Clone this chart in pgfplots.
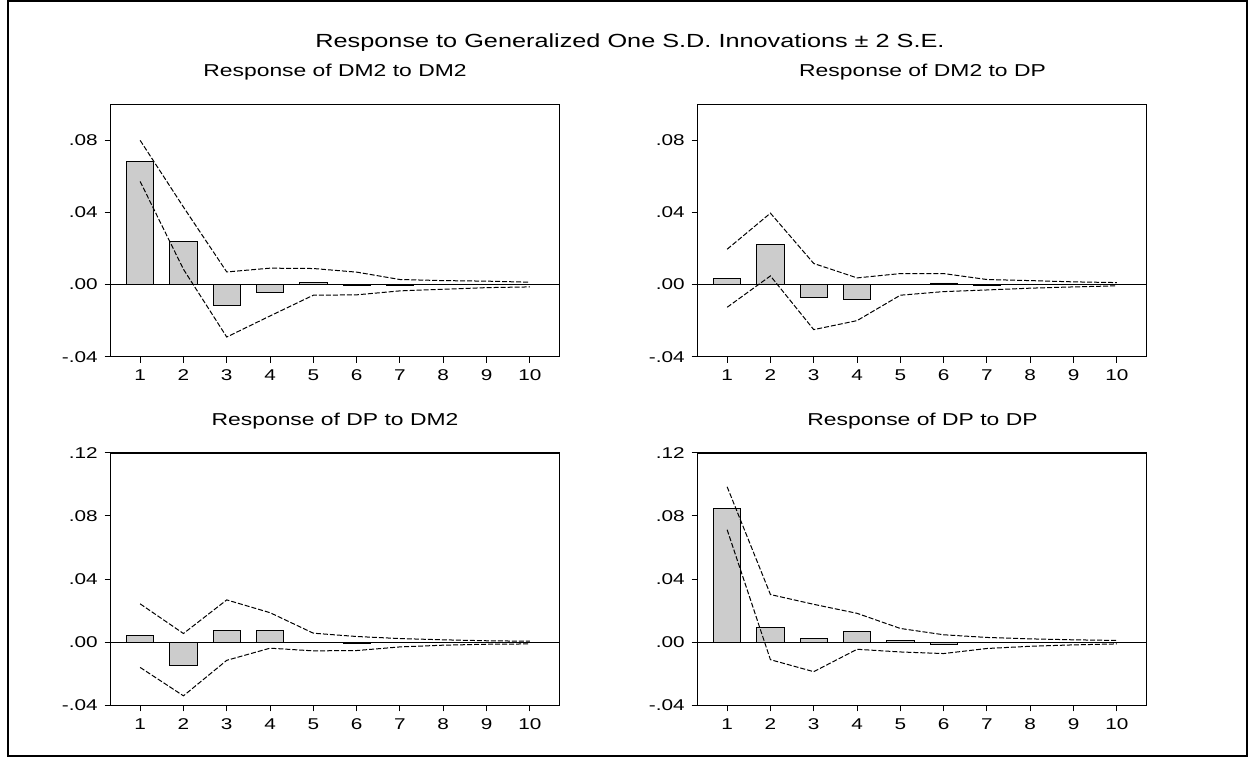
\documentclass[border=0pt]{standalone}
\usepackage{fontspec}
\setmainfont{Liberation Sans}
\usepackage{graphicx}
\usepackage{pgfplots}
\pgfplotsset{compat=1.18}
\usepackage{pgfplotstable}

\definecolor{barfill}{RGB}{204,204,204}
\newcommand{\st}[1]{\scalebox{1.33}[1]{#1}}

% h = horizon, bar = response, up/lo = +/- 2 S.E. bands
\pgfplotstableread{
h bar up lo
1 0.0685 0.0800 0.0572
2 0.0239 0.0430 0.0085
3 -0.0113 0.0070 -0.0291
4 -0.0044 0.0091 -0.0174
5 0.0013 0.0089 -0.0059
6 -0.0002 0.0069 -0.0057
7 -0.0003 0.0028 -0.0035
8 0.0000 0.0022 -0.0026
9 0.0000 0.0019 -0.0017
10 0.0000 0.0013 -0.0013
}\dmdm

\pgfplotstableread{
h bar up lo
1 0.0035 0.0196 -0.0126
2 0.0224 0.0396 0.0048
3 -0.0070 0.0117 -0.0250
4 -0.0081 0.0037 -0.0200
5 0.0000 0.0061 -0.0059
6 0.0009 0.0061 -0.0039
7 -0.0003 0.0028 -0.0030
8 0.0000 0.0022 -0.0020
9 0.0000 0.0015 -0.0013
10 0.0000 0.0011 -0.0007
}\dmdp

\pgfplotstableread{
h bar up lo
1 0.0040 0.0243 -0.0160
2 -0.0145 0.0055 -0.0340
3 0.0074 0.0268 -0.0115
4 0.0072 0.0187 -0.0038
5 0.0000 0.0057 -0.0055
6 -0.0006 0.0036 -0.0053
7 -0.0002 0.0023 -0.0030
8 0.0000 0.0015 -0.0019
9 0.0000 0.0009 -0.0013
10 0.0000 0.0006 -0.0011
}\dpdm

\pgfplotstableread{
h bar up lo
1 0.0849 0.0985 0.0713
2 0.0094 0.0302 -0.0111
3 0.0021 0.0240 -0.0187
4 0.0068 0.0183 -0.0045
5 0.0013 0.0087 -0.0062
6 -0.0015 0.0047 -0.0072
7 -0.0003 0.0030 -0.0040
8 0.0000 0.0021 -0.0026
9 0.0000 0.0015 -0.0017
10 0.0000 0.0011 -0.0011
}\dpdp

\pgfplotsset{
  irf/.style={
    scale only axis, width=224.3pt, height=126.2pt,
    xmin=0.32, xmax=10.68,
    axis line style={line width=0.65pt},
    tick align=outside, xtick pos=bottom, ytick pos=left,
    major tick length=3pt, tick style={black, line width=0.5pt},
    xtick={1,...,10},
    xticklabels={\st{1},\st{2},\st{3},\st{4},\st{5},\st{6},\st{7},\st{8},\st{9},\st{10}},
    ticklabel style={font=\fontsize{7.8}{9}\selectfont},
    no markers,
  },
  toprow/.style={ymin=-0.04, ymax=0.10, ytick={-0.04,0,0.04,0.08},
    yticklabels={\st{-.04},\st{.00},\st{.04},\st{.08}}},
  botrow/.style={ymin=-0.04, ymax=0.12, ytick={-0.04,0,0.04,0.08,0.12},
    yticklabels={\st{-.04},\st{.00},\st{.04},\st{.08},\st{.12}}},
  bars/.style={ybar, bar width=0.63, fill=barfill, draw=black, line width=0.4pt},
  band/.style={black, line width=0.5pt, dash pattern=on 2.5pt off 1pt},
  zero/.style={black, line width=0.6pt},
}

\newcommand{\panel}[1]{%
  \addplot[bars] table[x=h, y=bar] {#1};
  \addplot[zero] coordinates {(0.32,0) (10.68,0)};
  \addplot[band] table[x=h, y=up] {#1};
  \addplot[band] table[x=h, y=lo] {#1};
}

\begin{document}
\begin{tikzpicture}
\useasboundingbox (0,0) rectangle (625pt,379pt);
\draw[line width=1pt] (4pt,0.75pt) rectangle (623.5pt,378.25pt);

\node[anchor=base] at (315pt,355.1pt)
  {\fontsize{9.5}{11}\selectfont\st{Response to Generalized One S.D. Innovations ± 2 S.E.}};

\node[anchor=base] at (167.5pt,340.5pt) {\fontsize{8.6}{10}\selectfont\st{Response of DM2 to DM2}};
\node[anchor=base] at (461.25pt,340.5pt) {\fontsize{8.6}{10}\selectfont\st{Response of DM2 to DP}};
\node[anchor=base] at (167.5pt,166pt) {\fontsize{8.6}{10}\selectfont\st{Response of DP to DM2}};
\node[anchor=base] at (461.25pt,166pt) {\fontsize{8.6}{10}\selectfont\st{Response of DP to DP}};

\begin{axis}[irf, toprow, at={(55.35pt,200.65pt)}, anchor=south west]
\panel{\dmdm}
\end{axis}

\begin{axis}[irf, toprow, at={(348.85pt,200.65pt)}, anchor=south west]
\panel{\dmdp}
\end{axis}

\begin{axis}[irf, botrow, at={(55.35pt,26.35pt)}, anchor=south west]
\panel{\dpdm}
\end{axis}

\begin{axis}[irf, botrow, at={(348.85pt,26.35pt)}, anchor=south west]
\panel{\dpdp}
\end{axis}
\end{tikzpicture}
\end{document}
